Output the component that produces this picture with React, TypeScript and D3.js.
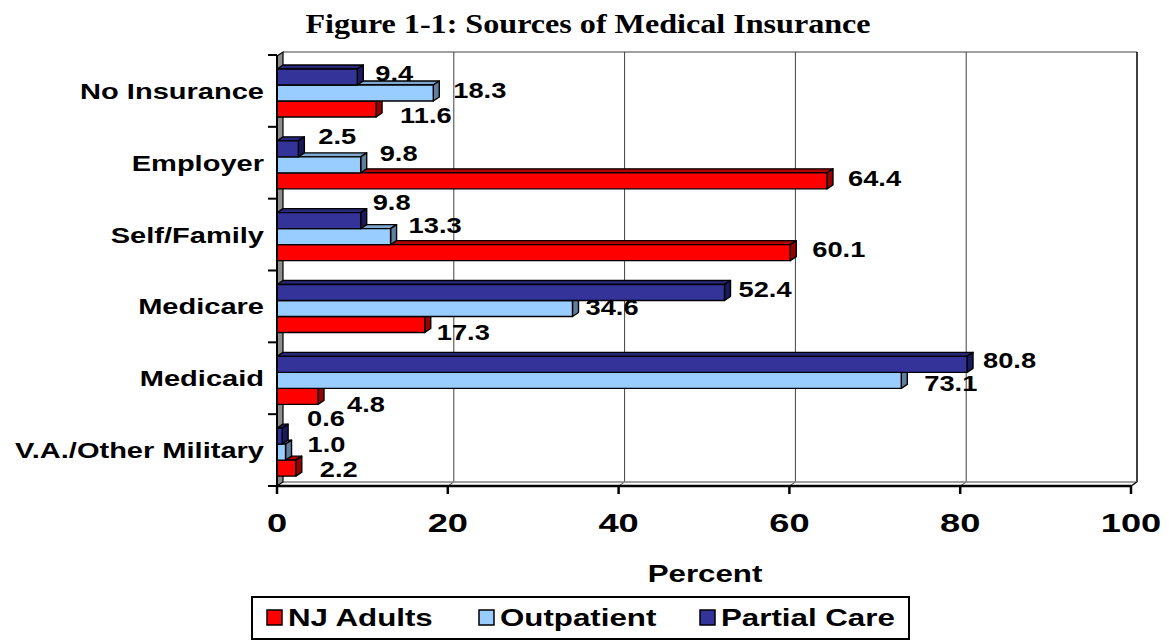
import React from "react";
import * as d3 from "d3";

// ---------- data ----------
const categories = ["No Insurance", "Employer", "Self/Family", "Medicare", "Medicaid", "V.A./Other Military"];
const njAdults = [11.6, 64.4, 60.1, 17.3, 4.8, 2.2];
const outpatient = [18.3, 9.8, 13.3, 34.6, 73.1, 1.0];
const partialCare = [9.4, 2.5, 9.8, 52.4, 80.8, 0.6];
const seriesNames = ["NJ Adults", "Outpatient", "Partial Care"];
const xTicks = [0, 20, 40, 60, 80, 100];

// ---------- layout / style ----------
const W = 1169, H = 641;
const SANS = "'Liberation Sans', Arial, Helvetica, sans-serif";
const SERIF = "'Liberation Serif', 'Times New Roman', serif";
const DX = 6, DY = -4; // 3D depth offset
const colors: Record<string, { front: string; top: string; side: string }> = {
  "NJ Adults": { front: "#FF0000", top: "#B00000", side: "#990000" },
  "Outpatient": { front: "#99CCFF", top: "#7FA6CC", side: "#5F7F9F" },
  "Partial Care": { front: "#333399", top: "#28287A", side: "#1A1A5E" },
};
// label nudges [dx, dy] per category, per series (NJ, Outpatient, Partial)
const labelNudge: number[][][] = [
  [[24, 6], [20, -3], [18, -4]],
  [[21, -3], [19, -12], [20, -13]],
  [[22, -4], [18, -12], [12, -19]],
  [[12, 7], [13, -2], [14, -4]],
  [[29, 8], [23, 3], [16, -4]],
  [[24, 1], [22, -8], [25, -18]],
];
const legendX = [267, 479, 700];

function SText({ x, y, sx = 1, anchor = "start", size, family = SANS, weight = "bold", children }: any) {
  return (
    <text
      transform={`translate(${x},${y}) scale(${sx},1)`}
      textAnchor={anchor}
      fontFamily={family}
      fontWeight={weight}
      fontSize={size}
      fill="#000"
    >
      {children}
    </text>
  );
}

export default function App() {
  const x = d3.scaleLinear().domain([0, 100]).range([277, 1131]);
  const y = d3.scaleBand<string>().domain(categories).range([55, 486]);
  const seriesOrder = ["Partial Care", "Outpatient", "NJ Adults"]; // top to bottom in band
  const inner = d3.scaleBand<string>().domain(seriesOrder).range([14, 62]);
  const values: Record<string, number[]> = {
    "NJ Adults": njAdults,
    "Outpatient": outpatient,
    "Partial Care": partialCare,
  };
  const x0 = x(0);
  const yTop = y(categories[0])! + DY + 1; // back wall top
  const yFloor = y.range()[1];

  const drawOrder = ["NJ Adults", "Outpatient", "Partial Care"];

  return (
    <svg width={W} height={H} style={{ position: "absolute", left: 0, top: 0, background: "#fff" }}>
      {/* title */}
      <SText x={588} y={33} sx={1.19} anchor="middle" size={27} family={SERIF}>
        Figure 1-1: Sources of Medical Insurance
      </SText>

      {/* back wall */}
      <rect x={x0 + DX} y={yTop} width={x(100) - x0} height={yFloor + DY - yTop} fill="#fff" stroke="none" />
      <line x1={x0 + DX} x2={x(100) + DX} y1={yTop} y2={yTop} stroke="#808080" strokeWidth={1.5} />
      <line x1={x(100) + DX} x2={x(100) + DX} y1={yTop} y2={yFloor + DY} stroke="#000" strokeWidth={1.5} />
      {/* gridlines */}
      {xTicks.slice(1, -1).map((t) => (
        <g key={t}>
          <line x1={x(t) + DX} x2={x(t) + DX} y1={yTop} y2={yFloor + DY} stroke="#404040" strokeWidth={1} />
          <line x1={x(t) + DX} x2={x(t)} y1={yFloor + DY} y2={yFloor} stroke="#404040" strokeWidth={1} />
        </g>
      ))}
      {/* floor */}
      <line x1={x0 + DX} x2={x(100) + DX} y1={yFloor + DY} y2={yFloor + DY} stroke="#808080" strokeWidth={1.5} />
      <line x1={x(100) + DX} x2={x(100)} y1={yFloor + DY} y2={yFloor} stroke="#000" strokeWidth={1.5} />
      {/* left wall */}
      <polygon
        points={`${x0},${yTop - DY} ${x0 + DX},${yTop} ${x0 + DX},${yFloor + DY} ${x0},${yFloor}`}
        fill="#8c8c8c"
        stroke="#000"
        strokeWidth={1.2}
      />

      {/* bars */}
      {categories.map((c, i) => (
        <g key={c}>
          {drawOrder.map((s) => {
            const v = values[s][i];
            const y0 = y(c)! + inner(s)!;
            const h = inner.bandwidth();
            const x1 = x(v);
            const col = colors[s];
            return (
              <g key={s} stroke="#000" strokeWidth={1.4} strokeLinejoin="round">
                <polygon
                  points={`${x0},${y0} ${x1},${y0} ${x1 + DX},${y0 + DY} ${x0 + DX},${y0 + DY}`}
                  fill={col.top}
                />
                <polygon
                  points={`${x1},${y0} ${x1 + DX},${y0 + DY} ${x1 + DX},${y0 + h + DY} ${x1},${y0 + h}`}
                  fill={col.side}
                />
                <rect x={x0} y={y0} width={x1 - x0} height={h} fill={col.front} />
              </g>
            );
          })}
        </g>
      ))}

      {/* axes */}
      <line x1={x0} x2={x(100)} y1={yFloor} y2={yFloor} stroke="#000" strokeWidth={2.5} />
      <line x1={x0} x2={x0} y1={yTop - DY} y2={yFloor} stroke="#000" strokeWidth={2} />
      {xTicks.map((t) => (
        <g key={t}>
          <line x1={x(t)} x2={x(t)} y1={yFloor} y2={yFloor + 8} stroke="#000" strokeWidth={2.5} />
          <SText x={x(t)} y={532} sx={1.45} anchor="middle" size={25}>
            {t}
          </SText>
        </g>
      ))}
      {[...categories.map((c) => y(c)!), yFloor].map((yy, k) => (
        <line key={k} x1={x0 - 9} x2={x0} y1={yy} y2={yy} stroke="#000" strokeWidth={2} />
      ))}
      {categories.map((c) => (
        <SText key={c} x={264} y={y(c)! + y.bandwidth() / 2 + 8} sx={1.32} anchor="end" size={22}>
          {c}
        </SText>
      ))}

      {/* value labels */}
      {categories.map((c, i) =>
        seriesNames.map((s, k) => {
          const v = values[s][i];
          const [ndx, ndy] = labelNudge[i][k];
          const cy = y(c)! + inner(s)! + inner.bandwidth() / 2;
          return (
            <SText key={c + s} x={x(v) + ndx} y={cy + ndy + 8} sx={1.24} size={22}>
              {v.toFixed(1)}
            </SText>
          );
        })
      )}

      {/* axis title */}
      <SText x={705} y={582} sx={1.36} anchor="middle" size={23}>
        Percent
      </SText>

      {/* legend */}
      <rect x={252} y={597} width={657} height={42} fill="#fff" stroke="#000" strokeWidth={2} />
      {seriesNames.map((s, k) => {
        const lx = legendX[k];
        return (
          <g key={s}>
            <rect x={lx} y={610} width={15} height={15} fill={colors[s].front} stroke="#000" strokeWidth={1.5} />
            <SText x={lx + 21} y={626} sx={1.36} size={23}>
              {s}
            </SText>
          </g>
        );
      })}
    </svg>
  );
}
